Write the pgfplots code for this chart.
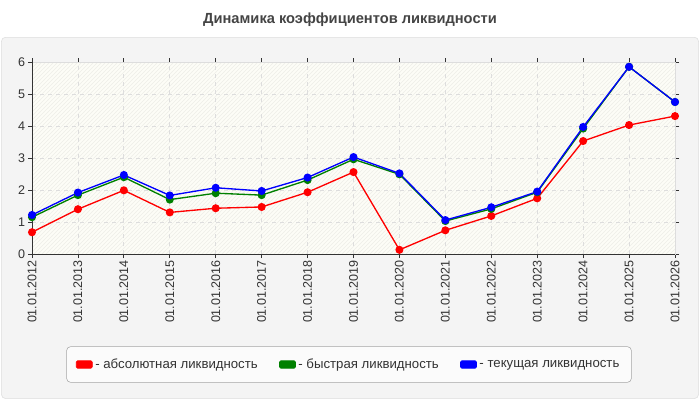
\documentclass[border=0pt]{standalone}
\usepackage{fontspec}
\setmainfont{Liberation Sans}
\usepackage{pgfplots}
\pgfplotsset{compat=1.18}
\usetikzlibrary{patterns}

\definecolor{panel}{HTML}{F4F4F4}
\definecolor{panelborder}{HTML}{DDDDDD}
\definecolor{plotbg}{HTML}{FDFDF7}
\definecolor{hatch}{HTML}{EEEEE8}
\definecolor{gridc}{HTML}{DDDDDD}
\definecolor{axisc}{HTML}{333333}
\definecolor{txt}{HTML}{333333}
\definecolor{ttl}{HTML}{444444}
\definecolor{cred}{HTML}{FF0000}
\definecolor{cgreen}{HTML}{008000}
\definecolor{cblue}{HTML}{0000FF}

\begin{document}
\begin{tikzpicture}
% page and panel (1px = 0.75pt)
\fill[white] (0pt,0pt) rectangle (525pt,300pt);
\draw[panelborder, fill=panel, rounded corners=3pt] (1.1pt,1.1pt) rectangle (523.9pt,272pt);
\node[font=\bfseries\fontsize{11}{13}\selectfont, text=ttl] at (262.5pt,285pt)
  {Динамика коэффициентов ликвидности};

\begin{axis}[
  at={(24pt,109.5pt)}, anchor=origin,
  scale only axis,
  width=482.25pt, height=144pt,
  xmin=0, xmax=14, ymin=0, ymax=6,
  xtick={0,...,14},
  xticklabels={01.01.2012,01.01.2013,01.01.2014,01.01.2015,01.01.2016,
    01.01.2017,01.01.2018,01.01.2019,01.01.2020,01.01.2021,01.01.2022,
    01.01.2023,01.01.2024,01.01.2025,01.01.2026},
  ytick={0,...,6},
  /pgf/number format/assume math mode=true,
  ticklabel style={font=\fontsize{9.4}{10}\selectfont, text=txt},
  xticklabel style={rotate=90, anchor=east, inner sep=1.5pt},
  yticklabel style={inner sep=2pt},
  tick align=outside, major tick length=3pt,
  tick style={axisc, line width=0.6pt},
  axis line style={gridc, line width=0.6pt},
  grid=major,
  major grid style={gridc, dashed, line width=0.6pt},
  axis background/.style={fill=plotbg, postaction={pattern=north east lines, pattern color=hatch}},
  every axis plot/.append style={line width=1pt, mark=*, mark size=2.5pt},
  legend columns=3,
  legend style={at={(0.493,-0.5755)}, anchor=center,
    fill=white!60!panel, draw=black!35, rounded corners=3pt,
    font=\fontsize{9.9}{11}\selectfont, text=txt,
    inner xsep=7pt, inner ysep=7pt,
    /tikz/every even column/.append style={column sep=14pt}},
  legend image code/.code={\filldraw[#1, line width=0.5pt, rounded corners=1pt] (0pt,-2.8pt) rectangle (12pt,2.8pt);},
  legend cell align=left,
]
\addplot[color=cred] coordinates {
  (0,0.68) (1,1.40) (2,1.99) (3,1.30) (4,1.43) (5,1.47) (6,1.93) (7,2.56)
  (8,0.13) (9,0.74) (10,1.19) (11,1.74) (12,3.53) (13,4.03) (14,4.31)
};
\addlegendentry{- абсолютная ликвидность}
\addplot[color=cgreen] coordinates {
  (0,1.15) (1,1.84) (2,2.40) (3,1.70) (4,1.90) (5,1.84) (6,2.31) (7,2.96)
  (8,2.49) (9,1.03) (10,1.41) (11,1.93) (12,3.92) (13,5.85) (14,4.75)
};
\addlegendentry{- быстрая ликвидность}
\addplot[color=cblue] coordinates {
  (0,1.22) (1,1.92) (2,2.47) (3,1.83) (4,2.07) (5,1.97) (6,2.39) (7,3.03)
  (8,2.52) (9,1.06) (10,1.46) (11,1.95) (12,3.97) (13,5.85) (14,4.75)
};
\addlegendentry{- текущая ликвидность}
% dark left and bottom axis lines
\draw[axisc, line width=0.7pt] (rel axis cs:0,1) -- (rel axis cs:0,0) -- (rel axis cs:1,0);
\end{axis}
\end{tikzpicture}
\end{document}
